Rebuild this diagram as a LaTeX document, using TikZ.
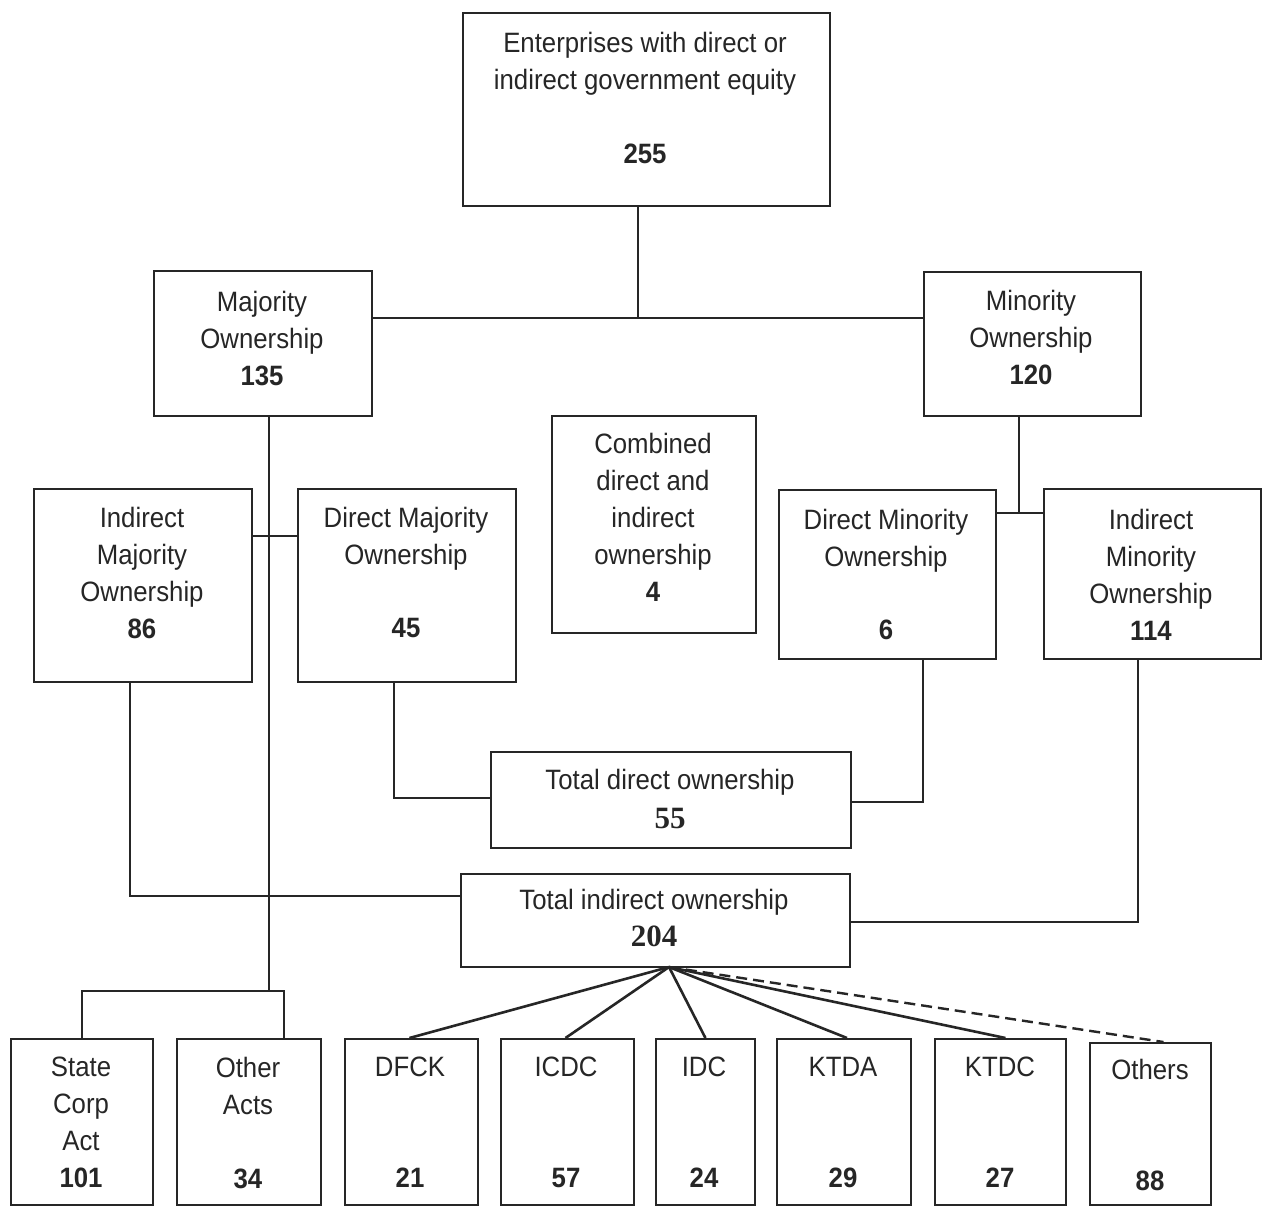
\documentclass[tikz,border=0pt]{standalone}
\usepackage{fontspec}
\setmainfont[FakeStretch=0.92]{Liberation Sans}
\newfontfamily\serifnum{Liberation Serif}
\usetikzlibrary{calc}
\begin{document}
\begin{tikzpicture}[x=1pt,y=-1pt,
  box/.style={draw=black!85, line width=1.9pt, inner sep=0pt, anchor=north west},
  lbl/.style={align=center, inner sep=0pt, anchor=north, text=black!85, font=\fontsize{28}{37}\selectfont},
  conn/.style={draw=black!85, line width=1.8pt},
  fanline/.style={draw=black!85, line width=2.6pt},
  fandash/.style={draw=black!85, line width=2.4pt, dash pattern=on 11pt off 6pt}]
\fill[white] (0,0) rectangle (1265,1205);
\useasboundingbox (0,0) rectangle (1265,1205);
% boxes
\node[box, minimum width=367pt, minimum height=193pt] (top) at (462,12) {};
\node[box, minimum width=218pt, minimum height=145pt] (maj) at (153,270) {};
\node[box, minimum width=217pt, minimum height=144pt] (min) at (923,271) {};
\node[box, minimum width=204pt, minimum height=217pt] (comb) at (551,415) {};
\node[box, minimum width=218pt, minimum height=193pt] (imaj) at (33,488) {};
\node[box, minimum width=218pt, minimum height=193pt] (dmaj) at (297,488) {};
\node[box, minimum width=217pt, minimum height=169pt] (dmin) at (778,489) {};
\node[box, minimum width=217pt, minimum height=170pt] (imin) at (1043,488) {};
\node[box, minimum width=360pt, minimum height=96pt] (tdir) at (490,751) {};
\node[box, minimum width=389pt, minimum height=93pt] (tind) at (460,873) {};
\node[box, minimum width=142pt, minimum height=166pt] (sca) at (10,1038) {};
\node[box, minimum width=144pt, minimum height=166pt] (oa) at (176,1038) {};
\node[box, minimum width=133pt, minimum height=166pt] (dfck) at (344,1038) {};
\node[box, minimum width=133pt, minimum height=166pt] (icdc) at (500,1038) {};
\node[box, minimum width=99pt, minimum height=166pt] (idc) at (655,1038) {};
\node[box, minimum width=134pt, minimum height=166pt] (ktda) at (776,1038) {};
\node[box, minimum width=131pt, minimum height=166pt] (ktdc) at (934,1038) {};
\node[box, minimum width=121pt, minimum height=162pt] (oth) at (1089,1042) {};
% labels
\node[lbl] (topT) at (645,32) {Enterprises with direct or\\indirect government equity\\[37pt]\textbf{255}};
\node[lbl] (majT) at (262,291) {Majority\\Ownership\\\textbf{135}};
\node[lbl] (minT) at (1031,290) {Minority\\Ownership\\\textbf{120}};
\node[lbl] (combT) at (653,433) {Combined\\direct and\\indirect\\ownership\\\textbf{4}};
\node[lbl] (imajT) at (142,507) {Indirect\\Majority\\Ownership\\\textbf{86}};
\node[lbl] (dmajT) at (406,507) {Direct Majority\\Ownership\\[36pt]\textbf{45}};
\node[lbl] (dminT) at (886,509) {Direct Minority\\Ownership\\[36pt]\textbf{6}};
\node[lbl] (iminT) at (1151,509) {Indirect\\Minority\\Ownership\\\textbf{114}};
\node[lbl] (tdirT) at (670,769) {Total direct ownership\\[2pt]{\serifnum\bfseries\fontsize{31}{37}\selectfont 55}};
\node[lbl] (tindT) at (654,889) {Total indirect ownership\\[0pt]{\serifnum\bfseries\fontsize{31}{37}\selectfont 204}};
\node[lbl] (scaT) at (81,1057) {State\\Corp\\Act\\\textbf{101}};
\node[lbl] (oaT) at (248,1057) {Other\\Acts\\[37pt]\textbf{34}};
\node[lbl] (dfckT) at (410,1057) {DFCK\\[74pt]\textbf{21}};
\node[lbl] (icdcT) at (566,1057) {ICDC\\[74pt]\textbf{57}};
\node[lbl] (idcT) at (704,1057) {IDC\\[74pt]\textbf{24}};
\node[lbl] (ktdaT) at (843,1057) {KTDA\\[74pt]\textbf{29}};
\node[lbl] (ktdcT) at (1000,1057) {KTDC\\[74pt]\textbf{27}};
\node[lbl] (othT) at (1150,1059) {Others\\[74pt]\textbf{88}};
% junction coordinates
\coordinate (jTop) at (638,318);
\coordinate (jMaj) at (269,536);
\coordinate (kOA) at (284,991);
\coordinate (jSplit) at (269,991);
\coordinate (jMin) at (1019,513);
\coordinate (kA) at (130,896);
\coordinate (kB) at (394,798);
\coordinate (kC) at (923,802);
\coordinate (kD) at (1138,922);
\coordinate (fan) at (669,967);
% connectors
\draw[conn] (top.south -| jTop) -- (jTop);
\draw[conn] (maj.east |- jTop) -- (min.west |- jTop);
\draw[conn] (maj.south -| jMaj) -- (jSplit);
\draw[conn] (imaj.east |- jMaj) -- (dmaj.west |- jMaj);
\draw[conn] (sca.north) |- (kOA) -- (kOA |- oa.north);
\draw[conn] (min.south -| jMin) -- (jMin);
\draw[conn] (dmin.east |- jMin) -- (imin.west |- jMin);
\draw[conn] (imaj.south -| kA) |- (tind.west |- kA);
\draw[conn] (dmaj.south -| kB) |- (tdir.west |- kB);
\draw[conn] (dmin.south -| kC) |- (tdir.east |- kC);
\draw[conn] (imin.south -| kD) |- (tind.east |- kD);
\draw[fanline] (fan) -- ($(dfck.north)+(-2,0)$);
\draw[fanline] (fan) -- ($(icdc.north)+(-2,0)$);
\draw[fanline] (fan) -- (idc.north);
\draw[fanline] (fan) -- ($(ktda.north)+(3,0)$);
\draw[fanline] (fan) -- ($(ktdc.north)+(5,0)$);
\draw[fandash] (fan) -- ($(oth.north)+(13,0)$);
\end{tikzpicture}
\end{document}
